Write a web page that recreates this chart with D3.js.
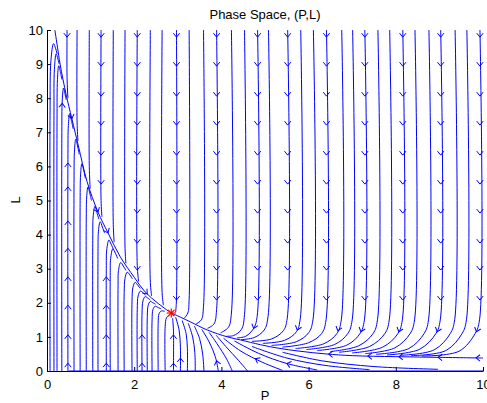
<!DOCTYPE html>
<html>
<head>
<meta charset="utf-8">
<script src="https://cdn.jsdelivr.net/npm/d3@7"></script>
<style>
	body { margin: 0; background: #fff; }
	.phase-chart text { font-family: "Liberation Sans", Arial, sans-serif; font-size: 13px; fill: #000; }
	.axis path, .axis line { stroke: #000; }
	.stream { fill: none; stroke: #0000ff; stroke-width: 1; }
	.arrow { fill: none; stroke: #0000ff; stroke-width: 1; }
	.star line { stroke: #ff0000; stroke-width: 1.2; }
</style>
</head>
<body>
<div class="phase-chart"></div>
<script>
// ticks
var pTicks = [0, 2, 4, 6, 8, 10]
var lTicks = [0, 1, 2, 3, 4, 5, 6, 7, 8, 9, 10]

var fixedPoint = [2.85, 1.7]

// the slow curve, both halves run into the fixed point
var manifoldUpper = [[0.18, 10], [0.24, 9.5], [0.3, 9.0], [0.44, 8.1], [0.57, 7.4], [0.72, 6.6], [0.92, 5.55], [1.17, 4.66], [1.4, 4.05], [1.68, 3.35], [2.0, 2.75], [2.25, 2.32], [2.55, 1.98], [2.85, 1.7]]
var manifoldLower = [[10, 0.38], [9, 0.4], [8, 0.42], [7, 0.45], [6.4, 0.5], [5.8, 0.58], [5.3, 0.67], [4.9, 0.77], [4.44, 0.91], [4.14, 1.0], [3.68, 1.2], [3.29, 1.44], [3.06, 1.58], [2.85, 1.7]]
var floorLine = [[10, 0], [0.5, 0]]

// streamlines coming down from L = 10
var topLines = [
	[[0.46, 10], [0.46, 8.6], [0.48, 8.0]],
	[[0.69, 10], [0.69, 7.3], [0.71, 6.75]],
	[[0.97, 10], [0.97, 6.0], [0.99, 5.35]],
	[[1.24, 10], [1.24, 5.0], [1.26, 4.52]],
	[[1.52, 10], [1.52, 4.3], [1.54, 3.78]],
	[[1.79, 10], [1.79, 3.6], [1.81, 3.16]],
	[[2.07, 10], [2.07, 3.1], [2.1, 2.63]],
	[[2.37, 10], [2.37, 2.6], [2.4, 2.2]],
	[[2.64, 10], [2.64, 2.3], [2.67, 1.93]],
	[[2.97, 10], [2.97, 2.1], [2.95, 1.72]],
	[[3.26, 10], [3.26, 2.1], [3.23, 1.7], [3.15, 1.55]],
	[[3.59, 10], [3.59, 1.9], [3.54, 1.5], [3.42, 1.38]],
	[[3.89, 10], [3.89, 1.8], [3.83, 1.38], [3.68, 1.25]],
	[[4.23, 10], [4.23, 1.7], [4.16, 1.28], [3.98, 1.12]],
	[[4.53, 10], [4.53, 1.65], [4.46, 1.22], [4.28, 1.04], [4.12, 1.02]],
	[[4.83, 10], [4.82, 1.6], [4.74, 1.25], [4.56, 1.02], [4.36, 0.97]],
	[[5.08, 10], [5.07, 1.6], [4.98, 1.2], [4.75, 0.98], [4.45, 0.92]],
	[[5.52, 10], [5.51, 1.55], [5.42, 1.18], [5.15, 0.94], [4.7, 0.87]],
	[[5.82, 10], [5.81, 1.55], [5.72, 1.15], [5.45, 0.9], [4.95, 0.81]],
	[[6.11, 10], [6.1, 1.5], [6.0, 1.12], [5.72, 0.86], [5.15, 0.75]],
	[[6.41, 10], [6.4, 1.5], [6.3, 1.1], [6.0, 0.83], [5.4, 0.7]],
	[[6.76, 10], [6.75, 1.5], [6.65, 1.1], [6.35, 0.8], [5.7, 0.66]],
	[[7.01, 10], [7.0, 1.5], [6.9, 1.1], [6.6, 0.78], [5.95, 0.63]],
	[[7.29, 10], [7.28, 1.5], [7.18, 1.1], [6.88, 0.76], [6.2, 0.6]],
	[[7.59, 10], [7.58, 1.5], [7.48, 1.1], [7.15, 0.74], [6.5, 0.57]],
	[[7.86, 10], [7.85, 1.5], [7.75, 1.1], [7.4, 0.72], [6.7, 0.55]],
	[[8.16, 10], [8.15, 1.5], [8.05, 1.1], [7.7, 0.7], [7.0, 0.53]],
	[[8.44, 10], [8.43, 1.5], [8.33, 1.1], [7.98, 0.68], [7.3, 0.51]],
	[[8.76, 10], [8.75, 1.5], [8.65, 1.1], [8.3, 0.66], [7.55, 0.49]],
	[[9.03, 10], [9.02, 1.5], [8.92, 1.1], [8.55, 0.64], [7.8, 0.47]],
	[[9.36, 10], [9.35, 1.5], [9.25, 1.1], [8.88, 0.62], [8.1, 0.46]],
	[[9.63, 10], [9.62, 1.5], [9.52, 1.1], [9.15, 0.6], [8.35, 0.45]],
	[[9.93, 10], [9.92, 1.5], [9.82, 1.1], [9.45, 0.58], [8.6, 0.44]]
]

// streamlines rising from L = 0 left of the fixed point (humps under the curve)
var riseLines = [
	[[0.07, 0], [0.07, 7.5], [0.09, 9.1], [0.15, 9.6], [0.2, 9.45], [0.23, 9.3]],
	[[0.16, 0], [0.16, 7.5], [0.17, 8.85], [0.21, 9.3], [0.25, 9.15], [0.28, 9.0]],
	[[0.23, 0], [0.23, 7.3], [0.24, 8.55], [0.27, 8.95], [0.31, 8.75], [0.34, 8.55]],
	[[0.34, 0], [0.34, 6.8], [0.35, 7.95], [0.38, 8.3], [0.41, 8.15], [0.44, 7.95]],
	[[0.48, 0], [0.48, 6.2], [0.49, 7.2], [0.52, 7.55], [0.56, 7.35], [0.6, 7.1]],
	[[0.62, 0], [0.62, 5.6], [0.63, 6.45], [0.66, 6.8], [0.7, 6.6], [0.74, 6.35]],
	[[0.76, 0], [0.76, 5.0], [0.77, 5.75], [0.8, 6.08], [0.84, 5.9], [0.88, 5.65]],
	[[0.9, 0], [0.9, 4.4], [0.91, 5.1], [0.94, 5.4], [0.98, 5.22], [1.02, 5.0]],
	[[1.05, 0], [1.05, 3.9], [1.06, 4.55], [1.1, 4.83], [1.15, 4.62], [1.19, 4.45]],
	[[1.17, 0], [1.17, 3.5], [1.18, 4.1], [1.22, 4.38], [1.27, 4.22], [1.32, 4.05]],
	[[1.36, 0], [1.36, 3.0], [1.37, 3.55], [1.42, 3.84], [1.47, 3.72], [1.53, 3.55]],
	[[1.45, 0], [1.45, 2.8], [1.46, 3.3], [1.51, 3.58], [1.57, 3.45], [1.62, 3.3]],
	[[1.63, 0], [1.63, 2.5], [1.64, 2.95], [1.69, 3.18], [1.75, 3.08], [1.81, 2.95]],
	[[1.77, 0], [1.77, 2.3], [1.79, 2.72], [1.84, 2.9], [1.9, 2.82], [1.96, 2.7]],
	[[1.95, 0], [1.95, 2.05], [1.97, 2.45], [2.02, 2.6], [2.08, 2.52], [2.14, 2.42]],
	[[2.07, 0], [2.07, 1.8], [2.09, 2.2], [2.14, 2.34], [2.2, 2.3], [2.26, 2.22]],
	[[2.18, 0], [2.18, 1.7], [2.2, 2.05], [2.25, 2.18], [2.31, 2.14], [2.37, 2.08]],
	[[2.3, 0], [2.3, 1.6], [2.32, 1.92], [2.37, 2.04], [2.43, 2.0], [2.49, 1.96]],
	[[2.41, 0], [2.41, 1.5], [2.43, 1.8], [2.48, 1.9], [2.55, 1.86], [2.62, 1.82]],
	[[2.55, 0], [2.55, 1.4], [2.57, 1.68], [2.62, 1.76], [2.7, 1.75]],
	[[2.71, 0], [2.71, 1.3], [2.74, 1.56], [2.8, 1.64]],
	[[2.9, 0], [2.9, 1.2], [2.88, 1.55]]
]

// streamlines under the lower half, running up and left
var lowLines = [
	[[3.06, 0], [3.06, 0.7], [3.03, 1.2], [2.95, 1.58]],
	[[3.22, 0], [3.22, 0.65], [3.19, 1.1], [3.1, 1.48]],
	[[3.4, 0], [3.39, 0.55], [3.34, 1.0], [3.24, 1.4]],
	[[3.6, 0], [3.57, 0.5], [3.5, 0.95], [3.38, 1.32]],
	[[3.93, 0], [3.86, 0.42], [3.72, 0.85], [3.55, 1.22]],
	[[4.25, 0], [4.12, 0.35], [3.9, 0.8], [3.72, 1.13]],
	[[4.6, 0], [4.4, 0.3], [4.1, 0.72], [3.88, 1.05]],
	[[5.4, 0.02], [4.95, 0.25], [4.45, 0.58], [4.05, 0.96]],
	[[6.2, 0.03], [5.5, 0.22], [4.85, 0.52], [4.3, 0.88]],
	[[7.4, 0.04], [6.4, 0.16], [5.5, 0.38], [4.7, 0.72]],
	[[8.97, 0.05], [7.5, 0.13], [6.3, 0.3], [5.4, 0.55]]
]

// arrow heads: columns of downward arrows on the top lines
var topArrowP = [0.46, 1.24, 2.07, 2.97, 3.89, 4.83, 5.52, 6.41, 7.29, 8.16, 9.03, 9.93]
var topArrowCount = [1, 6, 9, 10, 10, 10, 10, 10, 10, 10, 10, 10]
var topArrowL = [9.79, 8.94, 8.06, 7.21, 6.33, 5.48, 4.63, 3.75, 2.96, 2.08]

// other arrow heads: [P, L, heading in degrees on screen]
var otherArrows = [
	[0.48, 0.23, -90], [0.48, 1.06, -90], [0.48, 1.93, -90], [0.48, 2.76, -90], [0.48, 3.6, -90], [0.48, 4.4, -90], [0.48, 5.4, -90], [0.48, 6.1, -90],
	[0.35, 7.85, -88],
	[1.36, 0.23, -90], [1.36, 1.06, -90], [1.36, 1.93, -90], [1.36, 2.76, -90],
	[2.18, 0.23, -90], [2.18, 1.06, -90],
	[2.9, 0.23, -90], [2.9, 1.06, -90],
	[3.06, 0.38, -90], [3.89, 0.3, -103], [4.78, 0.36, 207], [5.5, 0.22, 195],
	[0.57, 7.4, 76], [1.17, 4.66, 67], [1.4, 4.05, 65], [2.3, 2.26, 48],
	[4.74, 1.25, 108], [5.74, 1.2, 108], [6.67, 1.18, 108], [7.2, 1.15, 108], [8.07, 1.15, 108], [8.95, 1.15, 108], [9.85, 1.15, 108],
	[6.46, 0.495, 182], [7.36, 0.44, 181], [8.07, 0.42, 181], [8.97, 0.4, 181], [9.84, 0.385, 181]
]

PhasePlot = {}

PhasePlot.drawGraph = function () {
	var width = 487,
		height = 403;

	var svg = d3.select('.phase-chart').append("svg")
		.attr("width", width)
		.attr("height", height);

	var x = d3.scaleLinear()
		.domain([0, 10])
		.range([47, 483])

	var y = d3.scaleLinear()
		.domain([0, 10])
		.range([371, 30])

	// axes go first so the streamline along L = 0 covers them
	svg.append("g")
		.attr("class", "axis axis--x")
		.attr("transform", "translate(0,371)")
		.call(d3.axisBottom(x).tickValues(pTicks).tickSizeInner(-4).tickSizeOuter(0).tickPadding(9))

	svg.append("g")
		.attr("class", "axis axis--y")
		.attr("transform", "translate(47,0)")
		.call(d3.axisLeft(y).tickValues(lTicks).tickSizeInner(-4).tickSizeOuter(0).tickPadding(4))

	var line = d3.line()
		.x(function (d) { return x(d[0]); })
		.y(function (d) { return y(d[1]); })
		.curve(d3.curveCatmullRom.alpha(0.5))

	var streams = [].concat(topLines, riseLines, lowLines, [manifoldUpper, manifoldLower, floorLine])

	svg.append("g").selectAll(".stream")
		.data(streams)
		.enter().append("path")
		.attr("class", "stream")
		.attr("d", line)

	var arrows = []
	topArrowP.forEach(function (p, i) {
		for (var k = 0; k < topArrowCount[i]; k++) {
			arrows.push([p, topArrowL[k], 90])
		}
	})
	arrows = arrows.concat(otherArrows)

	svg.append("g").selectAll(".arrow")
		.data(arrows)
		.enter().append("path")
		.attr("class", "arrow")
		.attr("transform", function (d) {
			return "translate(" + x(d[0]) + "," + y(d[1]) + ") rotate(" + d[2] + ")";
		})
		.attr("d", "M-4,-3.2L0,0L-4,3.2")

	// red asterisk on the fixed point
	var star = svg.append("g")
		.attr("class", "star")
		.attr("transform", "translate(" + x(fixedPoint[0]) + "," + y(fixedPoint[1]) + ")")
	var spokes = [[-4.5, 0, 4.5, 0], [0, -4.5, 0, 4.5], [-3.2, -3.2, 3.2, 3.2], [-3.2, 3.2, 3.2, -3.2]]
	star.selectAll("line")
		.data(spokes)
		.enter().append("line")
		.attr("x1", function (d) { return d[0]; })
		.attr("y1", function (d) { return d[1]; })
		.attr("x2", function (d) { return d[2]; })
		.attr("y2", function (d) { return d[3]; })

	svg.append("text")
		.attr("x", 265)
		.attr("y", 19)
		.attr("text-anchor", "middle")
		.text("Phase Space, (P,L)")

	svg.append("text")
		.attr("x", 265)
		.attr("y", 400)
		.attr("text-anchor", "middle")
		.text("P")

	svg.append("text")
		.attr("transform", "translate(20,200) rotate(-90)")
		.attr("text-anchor", "middle")
		.text("L")
}

PhasePlot.drawGraph()
</script>
</body>
</html>
